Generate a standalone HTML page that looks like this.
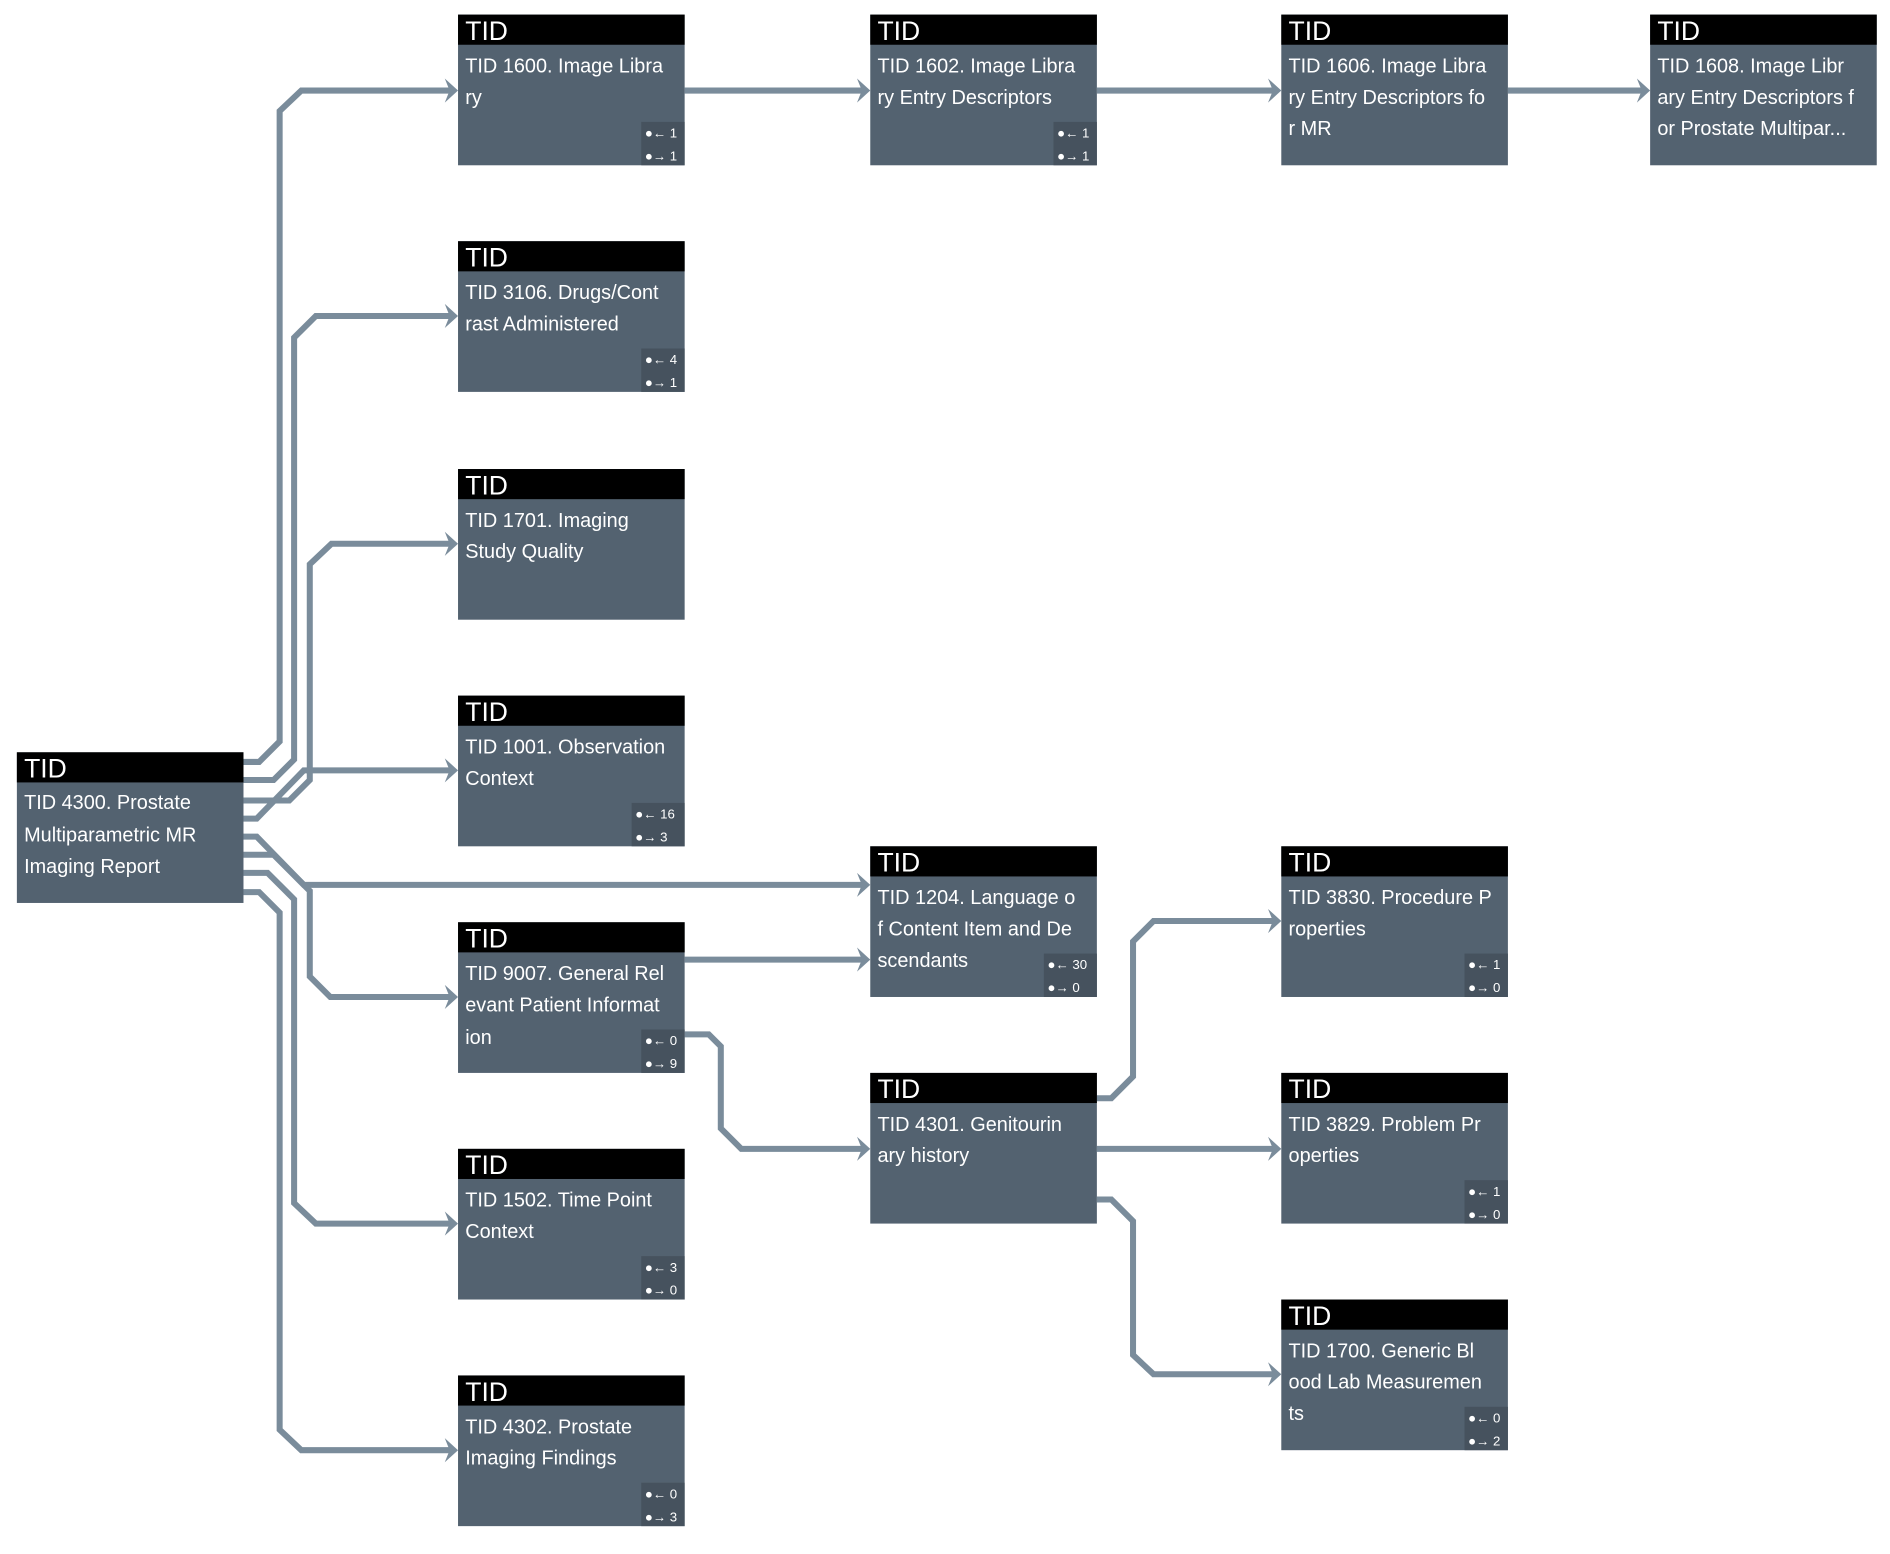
<!DOCTYPE html>
<html><head><meta charset="utf-8"><style>
html,body{margin:0;padding:0;background:#fff;}
svg{display:block}
text{font-family:"Liberation Sans",sans-serif;fill:#fff}
.h{font-size:22px}
.b{font-size:16.5px}
.s{font-size:11px}
.e{fill:none;stroke:#7a8c9b;stroke-width:5;stroke-linejoin:miter}
.a{fill:#7a8c9b}
.body{fill:#536270}
.bd{fill:#46525e}
</style></head><body>
<svg width="1890" height="1554" viewBox="0 0 1568 1289" xmlns="http://www.w3.org/2000/svg">
<defs>
<g id="ar"><path class="a" d="M0,0 L-11,-10 L-7,0 L-11,10 Z"/></g>
</defs>
<!-- edges -->
<path class="e" d="M202,632 H215 L232,615 V92 L250,75 H376"/>
<path class="e" d="M202,647 H227 L244,630 V280 L262,262 H376"/>
<path class="e" d="M202,664 H240 L257,647 V468 L275,451 H376"/>
<path class="e" d="M202,679 H213 L252,639 H376"/>
<path class="e" d="M202,694 H213 L252,734 H718"/>
<path class="e" d="M202,709 H227 L257,739 V810 L274,827 H376"/>
<path class="e" d="M202,724 H222 L244,746 V998 L262,1015 H376"/>
<path class="e" d="M202,740 H215 L232,757 V1186 L250,1203 H376"/>
<path class="e" d="M568,75 H718"/>
<path class="e" d="M910,75 H1059"/>
<path class="e" d="M1251,75 H1365"/>
<path class="e" d="M568,796 H718"/>
<path class="e" d="M568,858 H588 L598,868 V936 L615,953 H718"/>
<path class="e" d="M910,911 H922 L940,893 V781 L957,764 H1059"/>
<path class="e" d="M910,953 H1059"/>
<path class="e" d="M910,995 H922 L940,1013 V1124 L957,1140 H1059"/>
<use href="#ar" x="380" y="75"/><use href="#ar" x="380" y="262"/><use href="#ar" x="380" y="451"/>
<use href="#ar" x="380" y="639"/><use href="#ar" x="380" y="827"/><use href="#ar" x="380" y="1015"/>
<use href="#ar" x="380" y="1203"/><use href="#ar" x="722" y="75"/><use href="#ar" x="1063" y="75"/>
<use href="#ar" x="1369" y="75"/><use href="#ar" x="722" y="734"/><use href="#ar" x="722" y="796"/>
<use href="#ar" x="722" y="953"/><use href="#ar" x="1063" y="764"/><use href="#ar" x="1063" y="953"/>
<use href="#ar" x="1063" y="1140"/>

<!-- nodes -->
<g transform="translate(14,624)"><rect class="body" width="188" height="125"/><rect width="188" height="25" fill="#000"/><text class="h" x="6" y="21">TID</text>
<text class="b" x="6" y="47">TID 4300. Prostate</text><text class="b" x="6" y="74">Multiparametric MR</text><text class="b" x="6" y="100">Imaging Report</text></g>

<g transform="translate(380,12)"><rect class="body" width="188" height="125"/><rect width="188" height="25" fill="#000"/><text class="h" x="6" y="21">TID</text>
<text class="b" x="6" y="48">TID 1600. Image Libra</text><text class="b" x="6" y="74">ry</text>
<rect class="bd" x="152" y="89" width="36" height="36"/><text class="s" x="155" y="102">●← 1</text><text class="s" x="155" y="121">●→ 1</text></g>

<g transform="translate(722,12)"><rect class="body" width="188" height="125"/><rect width="188" height="25" fill="#000"/><text class="h" x="6" y="21">TID</text>
<text class="b" x="6" y="48">TID 1602. Image Libra</text><text class="b" x="6" y="74">ry Entry Descriptors</text>
<rect class="bd" x="152" y="89" width="36" height="36"/><text class="s" x="155" y="102">●← 1</text><text class="s" x="155" y="121">●→ 1</text></g>

<g transform="translate(1063,12)"><rect class="body" width="188" height="125"/><rect width="188" height="25" fill="#000"/><text class="h" x="6" y="21">TID</text>
<text class="b" x="6" y="48">TID 1606. Image Libra</text><text class="b" x="6" y="74">ry Entry Descriptors fo</text><text class="b" x="6" y="100">r MR</text></g>

<g transform="translate(1369,12)"><rect class="body" width="188" height="125"/><rect width="188" height="25" fill="#000"/><text class="h" x="6" y="21">TID</text>
<text class="b" x="6" y="48">TID 1608. Image Libr</text><text class="b" x="6" y="74">ary Entry Descriptors f</text><text class="b" x="6" y="100">or Prostate Multipar...</text></g>

<g transform="translate(380,200)"><rect class="body" width="188" height="125"/><rect width="188" height="25" fill="#000"/><text class="h" x="6" y="21">TID</text>
<text class="b" x="6" y="48">TID 3106. Drugs/Cont</text><text class="b" x="6" y="74">rast Administered</text>
<rect class="bd" x="152" y="89" width="36" height="36"/><text class="s" x="155" y="102">●← 4</text><text class="s" x="155" y="121">●→ 1</text></g>

<g transform="translate(380,389)"><rect class="body" width="188" height="125"/><rect width="188" height="25" fill="#000"/><text class="h" x="6" y="21">TID</text>
<text class="b" x="6" y="48">TID 1701. Imaging</text><text class="b" x="6" y="74">Study Quality</text></g>

<g transform="translate(380,577)"><rect class="body" width="188" height="125"/><rect width="188" height="25" fill="#000"/><text class="h" x="6" y="21">TID</text>
<text class="b" x="6" y="48">TID 1001. Observation</text><text class="b" x="6" y="74">Context</text>
<rect class="bd" x="144" y="89" width="44" height="36"/><text class="s" x="147" y="102">●← 16</text><text class="s" x="147" y="121">●→ 3</text></g>

<g transform="translate(380,765)"><rect class="body" width="188" height="125"/><rect width="188" height="25" fill="#000"/><text class="h" x="6" y="21">TID</text>
<text class="b" x="6" y="48">TID 9007. General Rel</text><text class="b" x="6" y="74">evant Patient Informat</text><text class="b" x="6" y="101">ion</text>
<rect class="bd" x="152" y="89" width="36" height="36"/><text class="s" x="155" y="102">●← 0</text><text class="s" x="155" y="121">●→ 9</text></g>

<g transform="translate(380,953)"><rect class="body" width="188" height="125"/><rect width="188" height="25" fill="#000"/><text class="h" x="6" y="21">TID</text>
<text class="b" x="6" y="48">TID 1502. Time Point</text><text class="b" x="6" y="74">Context</text>
<rect class="bd" x="152" y="89" width="36" height="36"/><text class="s" x="155" y="102">●← 3</text><text class="s" x="155" y="121">●→ 0</text></g>

<g transform="translate(380,1141)"><rect class="body" width="188" height="125"/><rect width="188" height="25" fill="#000"/><text class="h" x="6" y="21">TID</text>
<text class="b" x="6" y="48">TID 4302. Prostate</text><text class="b" x="6" y="74">Imaging Findings</text>
<rect class="bd" x="152" y="89" width="36" height="36"/><text class="s" x="155" y="102">●← 0</text><text class="s" x="155" y="121">●→ 3</text></g>

<g transform="translate(722,702)"><rect class="body" width="188" height="125"/><rect width="188" height="25" fill="#000"/><text class="h" x="6" y="21">TID</text>
<text class="b" x="6" y="48">TID 1204. Language o</text><text class="b" x="6" y="74">f Content Item and De</text><text class="b" x="6" y="100">scendants</text>
<rect class="bd" x="144" y="89" width="44" height="36"/><text class="s" x="147" y="102">●← 30</text><text class="s" x="147" y="121">●→ 0</text></g>

<g transform="translate(722,890)"><rect class="body" width="188" height="125"/><rect width="188" height="25" fill="#000"/><text class="h" x="6" y="21">TID</text>
<text class="b" x="6" y="48">TID 4301. Genitourin</text><text class="b" x="6" y="74">ary history</text></g>

<g transform="translate(1063,702)"><rect class="body" width="188" height="125"/><rect width="188" height="25" fill="#000"/><text class="h" x="6" y="21">TID</text>
<text class="b" x="6" y="48">TID 3830. Procedure P</text><text class="b" x="6" y="74">roperties</text>
<rect class="bd" x="152" y="89" width="36" height="36"/><text class="s" x="155" y="102">●← 1</text><text class="s" x="155" y="121">●→ 0</text></g>

<g transform="translate(1063,890)"><rect class="body" width="188" height="125"/><rect width="188" height="25" fill="#000"/><text class="h" x="6" y="21">TID</text>
<text class="b" x="6" y="48">TID 3829. Problem Pr</text><text class="b" x="6" y="74">operties</text>
<rect class="bd" x="152" y="89" width="36" height="36"/><text class="s" x="155" y="102">●← 1</text><text class="s" x="155" y="121">●→ 0</text></g>

<g transform="translate(1063,1078)"><rect class="body" width="188" height="125"/><rect width="188" height="25" fill="#000"/><text class="h" x="6" y="21">TID</text>
<text class="b" x="6" y="48">TID 1700. Generic Bl</text><text class="b" x="6" y="74">ood Lab Measuremen</text><text class="b" x="6" y="100">ts</text>
<rect class="bd" x="152" y="89" width="36" height="36"/><text class="s" x="155" y="102">●← 0</text><text class="s" x="155" y="121">●→ 2</text></g>
</svg>
</body></html>
